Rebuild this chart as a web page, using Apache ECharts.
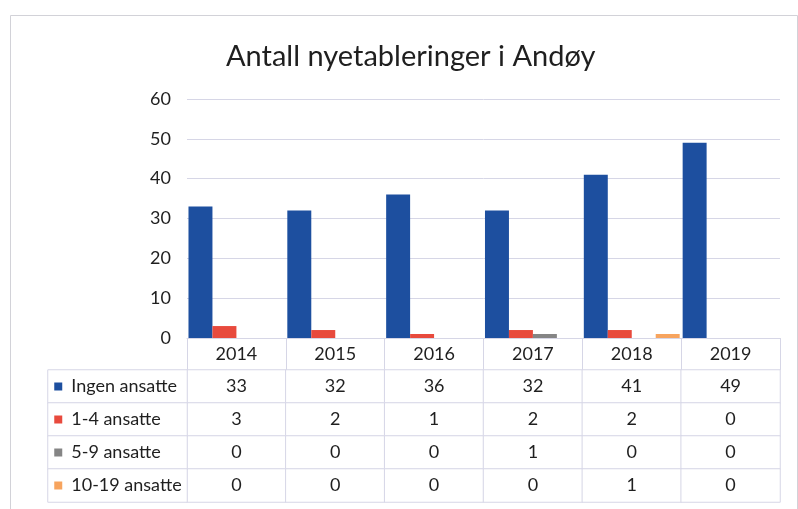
<!DOCTYPE html>
<html>
<head>
<meta charset="utf-8">
<script src="https://cdn.jsdelivr.net/npm/echarts@6/dist/echarts.min.js"></script>
<style>
  html, body { margin: 0; padding: 0; background: #fff; }
  #main { width: 798px; height: 509px; }
</style>
</head>
<body>
<div id="main"></div>
<script>
  // data
  var years = ['2014', '2015', '2016', '2017', '2018', '2019'];
  var seriesNames = ['Ingen ansatte', '1-4 ansatte', '5-9 ansatte', '10-19 ansatte'];
  var ingen = [33, 32, 36, 32, 41, 49];
  var small = [3, 2, 1, 2, 2, 0];
  var mid = [0, 0, 0, 1, 0, 0];
  var large = [0, 0, 0, 0, 1, 0];
  var colors = ['#1d4f9f', '#e84a3d', '#858585', '#f7a45e'];
  var yTicks = { min: 0, max: 60, interval: 10 };

  var rows = [ingen, small, mid, large];
  var font = 'Lato, "Open Sans", sans-serif';
  var lineColor = '#d6d6e6';
  var textColor = '#1f1f1f';

  // table cells (value rows) as heatmap items
  var cells = [];
  rows.forEach(function (row, r) {
    row.forEach(function (v, c) { cells.push([c, r, v]); });
  });
  var nameCells = seriesNames.map(function (n, r) { return [0, r, r]; });

  var rich = { sp: { width: 9 } };
  colors.forEach(function (c, i) {
    rich['k' + i] = { width: 8, height: 8, backgroundColor: c };
  });

  var chart = echarts.init(document.getElementById('main'));

  var option = {
    backgroundColor: '#fff',
    animation: false,
    textStyle: { fontFamily: font },
    title: {
      text: 'Antall nyetableringer i Andøy',
      left: 221,
      top: 37,
      textStyle: { fontSize: 29, fontWeight: 'normal', color: textColor, fontFamily: font }
    },
    graphic: [{
      type: 'rect',
      left: 8, top: 13,
      shape: { width: 787, height: 510 },
      style: { fill: 'none', stroke: '#d2d2d8', lineWidth: 1 },
      silent: true
    }],
    grid: [
      { left: 187, right: 18, top: 99, height: 239 },
      { left: 187, right: 18, top: 370, height: 132 },
      { left: 48, width: 139, top: 370, height: 132 }
    ],
    xAxis: [{
      type: 'category',
      gridIndex: 0,
      data: years,
      axisLine: { lineStyle: { color: lineColor } },
      axisTick: { show: true, length: 32, lineStyle: { color: lineColor } },
      axisLabel: { margin: 7, fontSize: 18, color: textColor }
    }, {
      type: 'category',
      gridIndex: 1,
      data: years,
      show: false
    }, {
      type: 'category',
      gridIndex: 2,
      data: ['name'],
      show: false
    }],
    yAxis: [{
      type: 'value',
      gridIndex: 0,
      min: yTicks.min,
      max: yTicks.max,
      interval: yTicks.interval,
      axisLine: { show: false },
      axisTick: { show: false },
      axisLabel: { margin: 16, fontSize: 18, color: textColor },
      splitLine: { lineStyle: { color: lineColor } }
    }, {
      type: 'category',
      gridIndex: 1,
      data: seriesNames,
      inverse: true,
      show: false
    }, {
      type: 'category',
      gridIndex: 2,
      data: seriesNames,
      inverse: true,
      show: false
    }],
    series: rows.map(function (row, i) {
      return {
        name: seriesNames[i],
        type: 'bar',
        xAxisIndex: 0,
        yAxisIndex: 0,
        data: row,
        barGap: 0,
        barCategoryGap: '3%',
        itemStyle: { color: colors[i] }
      };
    }).concat([{
      type: 'heatmap',
      xAxisIndex: 1,
      yAxisIndex: 1,
      data: cells,
      itemStyle: { color: '#fff', borderColor: lineColor, borderWidth: 1 },
      label: { show: true, fontSize: 18, color: textColor, fontFamily: font,
        formatter: function (p) { return String(p.value[2]); } },
      emphasis: { disabled: true }
    }, {
      type: 'heatmap',
      xAxisIndex: 2,
      yAxisIndex: 2,
      data: nameCells,
      itemStyle: { color: '#fff', borderColor: lineColor, borderWidth: 1 },
      label: {
        show: true,
        position: 'insideLeft',
        distance: 7,
        fontSize: 18,
        color: textColor,
        fontFamily: font,
        rich: rich,
        formatter: function (p) {
          var r = p.value[2];
          return '{k' + r + '|}{sp|}' + seriesNames[r];
        }
      },
      emphasis: { disabled: true }
    }])
  };

  chart.setOption(option);
</script>
</body>
</html>
